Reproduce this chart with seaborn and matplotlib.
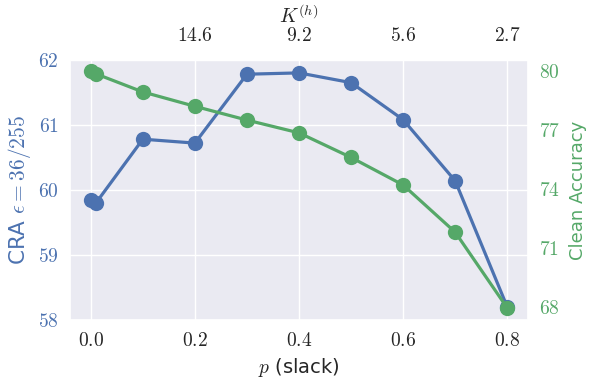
import pandas as pd
import seaborn as sns
import matplotlib
matplotlib.use("Agg")
import matplotlib.pyplot as plt

# =========================
# Data
# =========================
slack = [0.0, 0.01, 0.1, 0.2, 0.3, 0.4, 0.5, 0.6, 0.7, 0.8]
cra = [59.85, 59.80, 60.78, 60.72, 61.78, 61.80, 61.65, 61.08, 60.14, 58.20]
clean_acc = [80.0, 79.85, 78.93, 78.2, 77.5, 76.85, 75.6, 74.2, 71.8, 67.95]

top_ticks = [0.2, 0.4, 0.6, 0.8]
top_labels = ["14.6", "9.2", "5.6", "2.7"]

left_ticks = [58, 59, 60, 61, 62]
right_ticks = [68, 71, 74, 77, 80]
bottom_ticks = [0.0, 0.2, 0.4, 0.6, 0.8]

df = pd.DataFrame({"p": slack, "CRA": cra, "Clean": clean_acc})

blue = "#4C72B0"
green = "#55A868"

# =========================
# Style
# =========================
sns.set_theme(style="darkgrid")
plt.rcParams["mathtext.fontset"] = "cm"
plt.rcParams["font.family"] = ["DejaVu Sans"]

fig, ax = plt.subplots(figsize=(5.98, 3.84), dpi=100)
fig.subplots_adjust(left=0.117, right=0.883, top=0.844, bottom=0.167)

sns.lineplot(data=df, x="p", y="CRA", ax=ax, color=blue, marker="o",
             markersize=11, linewidth=2.3, markeredgewidth=0)
ax.set_ylim(58, 62)
ax.set_xlim(-0.04, 0.84)
ax.set_yticks(left_ticks)
ax.set_yticklabels([f"${t}$" for t in left_ticks], color=blue, fontsize=14)
ax.set_xticks(bottom_ticks)
ax.set_xticklabels([f"${t:.1f}$" for t in bottom_ticks], fontsize=14)
ax.set_xlabel(r"$p$ (slack)", fontsize=14, color="#262626")
ax.set_ylabel(r"CRA $\epsilon = 36/255$", fontsize=15.5, color=blue, labelpad=4)
ax.tick_params(axis="both", length=0, pad=8)

# right axis: clean accuracy
ax2 = ax.twinx()
sns.lineplot(data=df, x="p", y="Clean", ax=ax2, color=green, marker="o",
             markersize=11, linewidth=2.3, markeredgewidth=0)
ax2.set_ylim(67.34, 80.56)
ax2.set_yticks(right_ticks)
ax2.set_yticklabels([f"${t}$" for t in right_ticks], color=green, fontsize=14)
ax2.set_ylabel("Clean Accuracy", fontsize=13, color=green, labelpad=6)
ax2.grid(False)
ax2.tick_params(axis="y", length=0, pad=8)
for s in ax2.spines.values():
    s.set_visible(False)

# top axis: K^(h)
ax3 = ax.twiny()
ax3.set_xlim(ax.get_xlim())
ax3.set_xticks(top_ticks)
ax3.set_xticklabels([f"${t}$" for t in top_labels], fontsize=14)
ax3.set_xlabel(r"$K^{(h)}$", fontsize=14.5, labelpad=2)
ax3.grid(False)
ax3.tick_params(axis="x", length=0, pad=11)
for s in ax3.spines.values():
    s.set_visible(False)

fig.savefig("out.png", dpi=100)
